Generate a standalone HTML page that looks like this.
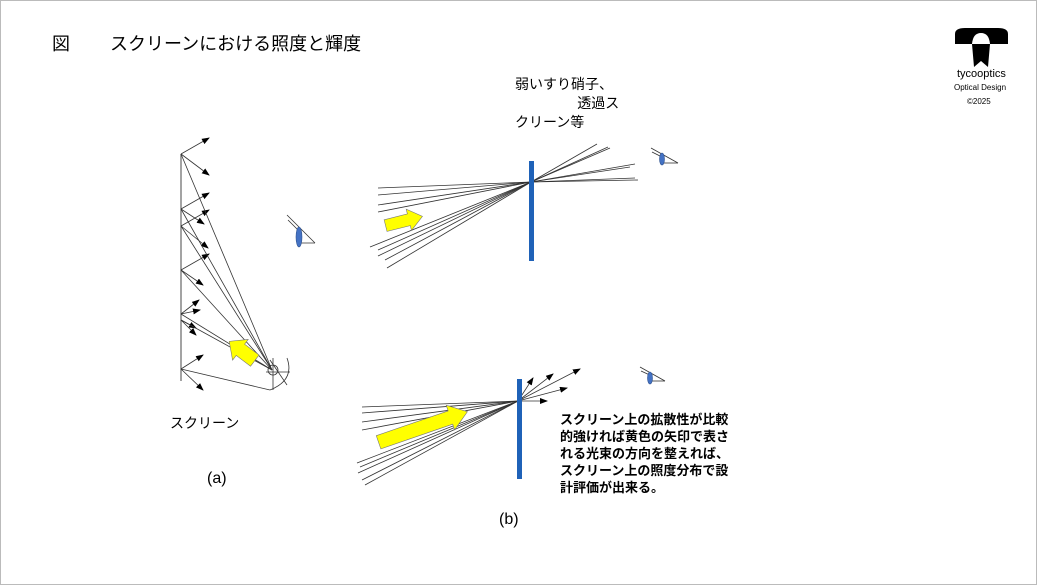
<!DOCTYPE html>
<html><head><meta charset="utf-8"><style>
body{margin:0;background:#fff;}
.f{position:absolute;left:0;top:0;width:1035px;height:583px;border:1px solid #bbb;}
.t{position:absolute;font-family:"Liberation Sans","Noto Sans CJK JP",sans-serif;color:#000;white-space:nowrap;}
</style></head><body>
<div class="f"></div>
<svg width="1037" height="585" style="position:absolute;left:0;top:0">
<defs><marker id="a" markerWidth="8" markerHeight="6" refX="7" refY="3" orient="auto" markerUnits="userSpaceOnUse"><path d="M0,0L8,3L0,6z" fill="#000"/></marker></defs>
<g stroke="#333" stroke-width="0.8" fill="none">
<line x1="181" y1="154" x2="181" y2="381" stroke="#666" stroke-width="1.2"/>
<g marker-end="url(#a)">
<line x1="181" y1="154" x2="209" y2="138"/><line x1="181" y1="154" x2="209" y2="175"/>
<line x1="181" y1="209" x2="209" y2="193"/><line x1="181" y1="209" x2="204" y2="224"/>
<line x1="181" y1="226" x2="209" y2="210"/><line x1="181" y1="226" x2="208" y2="248"/>
<line x1="181" y1="270" x2="209" y2="254"/><line x1="181" y1="270" x2="203" y2="285"/>
<line x1="181" y1="314" x2="199" y2="300"/><line x1="181" y1="314" x2="200" y2="310"/>
<line x1="181" y1="320" x2="196" y2="328"/><line x1="181" y1="320" x2="196" y2="335"/>
<line x1="181" y1="369" x2="203" y2="355"/><line x1="181" y1="369" x2="203" y2="390"/>
</g>
<line x1="181" y1="154" x2="272" y2="370"/><line x1="181" y1="209" x2="272" y2="370"/>
<line x1="181" y1="226" x2="272" y2="370"/><line x1="181" y1="270" x2="272" y2="370"/>
<line x1="181" y1="314" x2="272" y2="370"/><line x1="181" y1="320" x2="272" y2="370"/>
<line x1="181" y1="369" x2="270" y2="390"/>
<circle cx="273" cy="370" r="5"/>
<path d="M270,390 Q295,380 287,358"/><line x1="270" y1="360" x2="287" y2="385"/><line x1="266" y1="372" x2="290" y2="372"/>
<line x1="273" y1="358" x2="273" y2="390"/>
<line x1="287" y1="215" x2="315" y2="243"/><line x1="288" y1="220" x2="300" y2="232"/><line x1="298" y1="243" x2="315" y2="243"/>
<line x1="378" y1="188" x2="531" y2="182"/><line x1="378" y1="195" x2="531" y2="182"/><line x1="378" y1="205" x2="531" y2="182"/><line x1="378" y1="212" x2="531" y2="182"/>
<line x1="370" y1="247" x2="531" y2="182"/><line x1="378" y1="250" x2="531" y2="182"/><line x1="378" y1="256" x2="531" y2="182"/><line x1="385" y1="260" x2="531" y2="182"/><line x1="387" y1="268" x2="531" y2="182"/>
<line x1="531" y1="182" x2="597" y2="144"/><line x1="531" y1="182" x2="608" y2="147"/><line x1="531" y1="182" x2="610" y2="148"/>
<line x1="531" y1="182" x2="635" y2="164"/><line x1="531" y1="182" x2="630" y2="167"/><line x1="531" y1="182" x2="638" y2="180"/><line x1="531" y1="182" x2="635" y2="178"/>
<line x1="651" y1="148" x2="678" y2="163"/><line x1="652" y1="152" x2="664" y2="158"/><line x1="662" y1="163" x2="678" y2="163"/>
<line x1="362" y1="407" x2="518" y2="401"/><line x1="362" y1="413" x2="518" y2="401"/><line x1="362" y1="422" x2="518" y2="401"/><line x1="362" y1="430" x2="518" y2="401"/>
<line x1="357" y1="463" x2="518" y2="401"/><line x1="360" y1="467" x2="518" y2="401"/><line x1="358" y1="473" x2="518" y2="401"/><line x1="362" y1="480" x2="518" y2="401"/><line x1="365" y1="485" x2="518" y2="401"/>
<g marker-end="url(#a)"><line x1="518" y1="401" x2="533" y2="378"/><line x1="518" y1="401" x2="553" y2="374"/><line x1="518" y1="401" x2="580" y2="369"/><line x1="518" y1="401" x2="567" y2="388"/><line x1="518" y1="401" x2="547" y2="401"/></g>
<line x1="640" y1="367" x2="665" y2="381"/><line x1="641" y1="371" x2="652" y2="376"/><line x1="650" y1="381" x2="665" y2="381"/>
</g>
<ellipse cx="299" cy="237" rx="3" ry="10" fill="#4472c4" stroke="#2f528f" stroke-width="0.6"/>
<ellipse cx="662" cy="159" rx="2.5" ry="6" fill="#4472c4" stroke="#2f528f" stroke-width="0.6"/>
<ellipse cx="650" cy="378" rx="2.5" ry="6" fill="#4472c4" stroke="#2f528f" stroke-width="0.6"/>
<rect x="529" y="161" width="5" height="100" fill="#1f62b8"/>
<rect x="517" y="379" width="5" height="100" fill="#1f62b8"/>
<g fill="#ffff00" stroke="#777" stroke-width="0.6">
<polygon transform="translate(404,221) rotate(-14)" points="-19,-6 5,-6 5,-11 19,0 5,11 5,6 -19,6"/>
<polygon transform="translate(423,427) rotate(-19)" points="-47,-7 29,-7 29,-13 47,0 29,13 29,7 -47,7"/>
<polygon transform="translate(242,351) rotate(-143)" points="-16,-7 2,-7 2,-13 16,0 2,13 2,7 -16,7"/>
</g>
<path d="M955,44 L955,34 Q955,28 965,28 L998,28 Q1008,28 1008,34 L1008,44 L990,44 Q989,33 981,33 Q973,33 972,44Z" fill="#000"/>
<path d="M972,44 L990,44 L988,67 L981,61 L974,67Z" fill="#000"/>
</svg>
<div class="t" style="left:52px;top:30px;font-size:18px">図</div>
<div class="t" style="left:110px;top:30px;font-size:18px">スクリーンにおける照度と輝度</div>
<div class="t" style="left:515px;top:75px;font-size:14px;line-height:19px">弱いすり硝子、<br>&nbsp;&nbsp;&nbsp;&nbsp;&nbsp;&nbsp;&nbsp;&nbsp;&nbsp;&nbsp;&nbsp;&nbsp;&nbsp;&nbsp;&nbsp;&nbsp;透過ス<br>クリーン等</div>
<div class="t" style="left:170px;top:413px;font-size:14px">スクリーン</div>
<div class="t" style="left:207px;top:470px;font-size:16px">(a)</div>
<div class="t" style="left:499px;top:511px;font-size:16px">(b)</div>
<div class="t" style="left:560px;top:411px;font-size:13px;font-weight:bold;line-height:17px">スクリーン上の拡散性が比較<br>的強ければ黄色の矢印で表さ<br>れる光束の方向を整えれば、<br>スクリーン上の照度分布で設<br>計評価が出来る。</div>
<div class="t" style="left:957px;top:68px;font-size:11px">tycooptics</div>
<div class="t" style="left:954px;top:83px;font-size:8px">Optical Design</div>
<div class="t" style="left:967px;top:97px;font-size:8px">©2025</div>
</body></html>
